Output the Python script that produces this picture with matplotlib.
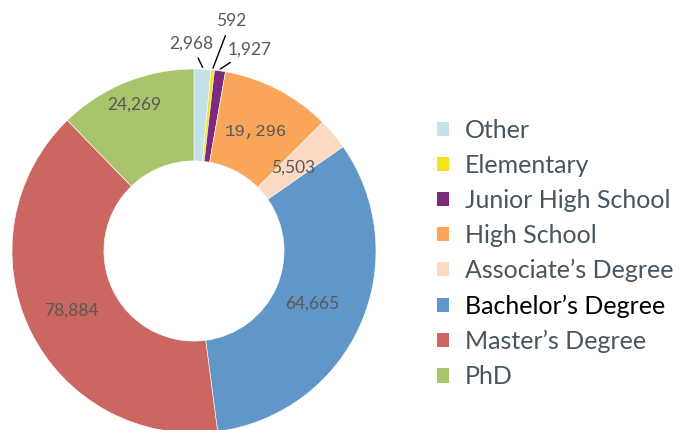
"""Donut chart: respondents by education level."""

import matplotlib
matplotlib.use("Agg")
import matplotlib.pyplot as plt
from matplotlib.patches import Patch
import numpy as np

categories = ["Other", "Elementary", "Junior High School", "High School",
              "Associate\u2019s Degree", "Bachelor\u2019s Degree",
              "Master\u2019s Degree", "PhD"]
counts = [2968, 592, 1927, 19296, 5503, 64665, 78884, 24269]
colors = ["#c3e2ea", "#f2e51b", "#7b2a7e", "#f9a65a", "#fcd9c2",
          "#6097c8", "#cc6660", "#a9c56b"]

# label placement (fraction of outer radius, degrees off the wedge middle)
label_radius = [1.14, 1.28, 1.15, 0.74, 0.71, 0.71, 0.75, 0.87]
label_angle_shift = [3.5, -3.2, -7.3, 0, 0, 0, 0, 0]
outside = [True, True, True, False, False, False, False, False]

W, H = 679, 430
fig = plt.figure(figsize=(W / 100, H / 100), dpi=100)
cx, cy, r = 194, 251, 182
ax = fig.add_axes([(cx - r) / W, (H - cy - r) / H, 2 * r / W, 2 * r / H])

wedges, _ = ax.pie(counts, colors=colors, startangle=90, counterclock=False,
                   radius=1.0, wedgeprops=dict(width=0.505, linewidth=0.4,
                                               edgecolor="white"))
ax.set_xlim(-1, 1)
ax.set_ylim(-1, 1)
ax.set_aspect("equal")
ax.axis("off")

txt_color = "#595959"
for w, n, rad, shift, out in zip(wedges, counts, label_radius,
                                 label_angle_shift, outside):
    mid = np.deg2rad((w.theta1 + w.theta2) / 2)
    ang = mid + np.deg2rad(shift)
    tx, ty = rad * np.cos(ang), rad * np.sin(ang)
    label = f"{n:,}"
    family = "Liberation Mono" if n == 19296 else "Lato"
    if out:
        ex, ey = 1.01 * np.cos(mid), 1.01 * np.sin(mid)
        ax.annotate(label, xy=(ex, ey), xytext=(tx, ty), ha="center",
                    va="center", fontsize=12.5, color=txt_color,
                    family=family, annotation_clip=False,
                    arrowprops=dict(arrowstyle="-", color="black", lw=1.0,
                                    shrinkA=3, shrinkB=0))
    else:
        ax.text(tx, ty, label, ha="center", va="center", fontsize=12.5,
                color=txt_color, family=family)

handles = [Patch(facecolor=c, edgecolor="none") for c in colors]
leg = fig.legend(handles, categories, loc="upper left",
                 bbox_to_anchor=(414 / W, 1 - 96 / H), frameon=False,
                 prop={"family": "Lato", "size": 18}, handlelength=0.49,
                 handleheight=0.49, handletextpad=0.63, labelspacing=0.485)
for t in leg.get_texts():
    t.set_color("#46555f")
leg.get_texts()[5].set_color("black")

fig.savefig("out.png", dpi=100)
